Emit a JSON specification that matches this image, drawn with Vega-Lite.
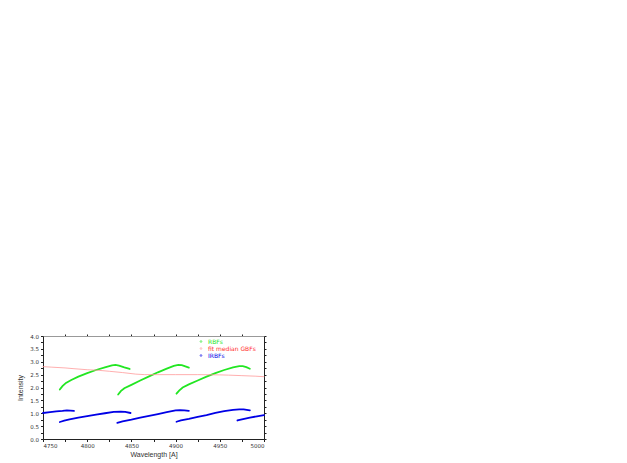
{
  "$schema": "https://vega.github.io/schema/vega-lite/v6.json",
  "width": 221,
  "height": 103,
  "autosize": {"type": "none"},
  "padding": {"left": 43, "top": 336, "right": 10, "bottom": 20},
  "background": "white",
  "config": {
    "view": {"stroke": null},
    "axis": {"labelFont": "DejaVu Sans", "titleFont": "Liberation Sans", "labelFontSize": 5.5, "titleFontSize": 7, "titleFontWeight": "normal", "labelColor": "#333", "titleColor": "#333", "domainColor": "#222", "tickColor": "#222", "grid": false, "tickSize": 2.5, "labelPadding": 2},
    "legend": {"labelFont": "DejaVu Sans", "labelFontSize": 6}
  },
  "data": {"values": [
    {"series": "RBFs", "seg": "g1", "x": 4769, "y": 1.92},
    {"series": "RBFs", "seg": "g1", "x": 4772, "y": 2.05},
    {"series": "RBFs", "seg": "g1", "x": 4776, "y": 2.18},
    {"series": "RBFs", "seg": "g1", "x": 4782, "y": 2.29},
    {"series": "RBFs", "seg": "g1", "x": 4790, "y": 2.42},
    {"series": "RBFs", "seg": "g1", "x": 4800, "y": 2.56},
    {"series": "RBFs", "seg": "g1", "x": 4810, "y": 2.68},
    {"series": "RBFs", "seg": "g1", "x": 4820, "y": 2.78},
    {"series": "RBFs", "seg": "g1", "x": 4828, "y": 2.86},
    {"series": "RBFs", "seg": "g1", "x": 4832, "y": 2.88},
    {"series": "RBFs", "seg": "g1", "x": 4836, "y": 2.85},
    {"series": "RBFs", "seg": "g1", "x": 4842, "y": 2.78},
    {"series": "RBFs", "seg": "g1", "x": 4848, "y": 2.72},
    {"series": "RBFs", "seg": "g2", "x": 4835, "y": 1.73},
    {"series": "RBFs", "seg": "g2", "x": 4838, "y": 1.86},
    {"series": "RBFs", "seg": "g2", "x": 4842, "y": 1.97},
    {"series": "RBFs", "seg": "g2", "x": 4850, "y": 2.10},
    {"series": "RBFs", "seg": "g2", "x": 4860, "y": 2.27},
    {"series": "RBFs", "seg": "g2", "x": 4870, "y": 2.43},
    {"series": "RBFs", "seg": "g2", "x": 4880, "y": 2.59},
    {"series": "RBFs", "seg": "g2", "x": 4890, "y": 2.73},
    {"series": "RBFs", "seg": "g2", "x": 4898, "y": 2.84},
    {"series": "RBFs", "seg": "g2", "x": 4903, "y": 2.88},
    {"series": "RBFs", "seg": "g2", "x": 4907, "y": 2.87},
    {"series": "RBFs", "seg": "g2", "x": 4911, "y": 2.82},
    {"series": "RBFs", "seg": "g2", "x": 4915, "y": 2.77},
    {"series": "RBFs", "seg": "g3", "x": 4901, "y": 1.76},
    {"series": "RBFs", "seg": "g3", "x": 4904, "y": 1.88},
    {"series": "RBFs", "seg": "g3", "x": 4908, "y": 2.00},
    {"series": "RBFs", "seg": "g3", "x": 4915, "y": 2.12},
    {"series": "RBFs", "seg": "g3", "x": 4925, "y": 2.27},
    {"series": "RBFs", "seg": "g3", "x": 4935, "y": 2.42},
    {"series": "RBFs", "seg": "g3", "x": 4945, "y": 2.56},
    {"series": "RBFs", "seg": "g3", "x": 4955, "y": 2.68},
    {"series": "RBFs", "seg": "g3", "x": 4965, "y": 2.78},
    {"series": "RBFs", "seg": "g3", "x": 4972, "y": 2.83},
    {"series": "RBFs", "seg": "g3", "x": 4976, "y": 2.83},
    {"series": "RBFs", "seg": "g3", "x": 4980, "y": 2.79},
    {"series": "RBFs", "seg": "g3", "x": 4984, "y": 2.73},
    {"series": "fit median GBFs", "seg": "r", "x": 4750, "y": 2.81},
    {"series": "fit median GBFs", "seg": "r", "x": 4760, "y": 2.79},
    {"series": "fit median GBFs", "seg": "r", "x": 4775, "y": 2.76},
    {"series": "fit median GBFs", "seg": "r", "x": 4785, "y": 2.73},
    {"series": "fit median GBFs", "seg": "r", "x": 4800, "y": 2.69},
    {"series": "fit median GBFs", "seg": "r", "x": 4812, "y": 2.67},
    {"series": "fit median GBFs", "seg": "r", "x": 4825, "y": 2.63},
    {"series": "fit median GBFs", "seg": "r", "x": 4840, "y": 2.58},
    {"series": "fit median GBFs", "seg": "r", "x": 4855, "y": 2.52},
    {"series": "fit median GBFs", "seg": "r", "x": 4865, "y": 2.50},
    {"series": "fit median GBFs", "seg": "r", "x": 4880, "y": 2.50},
    {"series": "fit median GBFs", "seg": "r", "x": 4900, "y": 2.50},
    {"series": "fit median GBFs", "seg": "r", "x": 4925, "y": 2.50},
    {"series": "fit median GBFs", "seg": "r", "x": 4950, "y": 2.49},
    {"series": "fit median GBFs", "seg": "r", "x": 4960, "y": 2.48},
    {"series": "fit median GBFs", "seg": "r", "x": 4975, "y": 2.46},
    {"series": "fit median GBFs", "seg": "r", "x": 4990, "y": 2.44},
    {"series": "fit median GBFs", "seg": "r", "x": 5000, "y": 2.42},
    {"series": "IRBFs", "seg": "b1", "x": 4750, "y": 1.01},
    {"series": "IRBFs", "seg": "b1", "x": 4758, "y": 1.04},
    {"series": "IRBFs", "seg": "b1", "x": 4765, "y": 1.07},
    {"series": "IRBFs", "seg": "b1", "x": 4772, "y": 1.09},
    {"series": "IRBFs", "seg": "b1", "x": 4777, "y": 1.11},
    {"series": "IRBFs", "seg": "b1", "x": 4781, "y": 1.10},
    {"series": "IRBFs", "seg": "b1", "x": 4785, "y": 1.09},
    {"series": "IRBFs", "seg": "b2", "x": 4769, "y": 0.66},
    {"series": "IRBFs", "seg": "b2", "x": 4774, "y": 0.71},
    {"series": "IRBFs", "seg": "b2", "x": 4780, "y": 0.76},
    {"series": "IRBFs", "seg": "b2", "x": 4790, "y": 0.83},
    {"series": "IRBFs", "seg": "b2", "x": 4800, "y": 0.89},
    {"series": "IRBFs", "seg": "b2", "x": 4810, "y": 0.95},
    {"series": "IRBFs", "seg": "b2", "x": 4820, "y": 1.00},
    {"series": "IRBFs", "seg": "b2", "x": 4830, "y": 1.05},
    {"series": "IRBFs", "seg": "b2", "x": 4838, "y": 1.06},
    {"series": "IRBFs", "seg": "b2", "x": 4843, "y": 1.05},
    {"series": "IRBFs", "seg": "b2", "x": 4849, "y": 1.01},
    {"series": "IRBFs", "seg": "b3", "x": 4834, "y": 0.63},
    {"series": "IRBFs", "seg": "b3", "x": 4840, "y": 0.68},
    {"series": "IRBFs", "seg": "b3", "x": 4850, "y": 0.75},
    {"series": "IRBFs", "seg": "b3", "x": 4860, "y": 0.83},
    {"series": "IRBFs", "seg": "b3", "x": 4870, "y": 0.90},
    {"series": "IRBFs", "seg": "b3", "x": 4880, "y": 0.97},
    {"series": "IRBFs", "seg": "b3", "x": 4890, "y": 1.04},
    {"series": "IRBFs", "seg": "b3", "x": 4900, "y": 1.11},
    {"series": "IRBFs", "seg": "b3", "x": 4905, "y": 1.12},
    {"series": "IRBFs", "seg": "b3", "x": 4910, "y": 1.11},
    {"series": "IRBFs", "seg": "b3", "x": 4915, "y": 1.09},
    {"series": "IRBFs", "seg": "b4", "x": 4901, "y": 0.67},
    {"series": "IRBFs", "seg": "b4", "x": 4906, "y": 0.72},
    {"series": "IRBFs", "seg": "b4", "x": 4915, "y": 0.78},
    {"series": "IRBFs", "seg": "b4", "x": 4925, "y": 0.86},
    {"series": "IRBFs", "seg": "b4", "x": 4935, "y": 0.93},
    {"series": "IRBFs", "seg": "b4", "x": 4945, "y": 1.01},
    {"series": "IRBFs", "seg": "b4", "x": 4955, "y": 1.08},
    {"series": "IRBFs", "seg": "b4", "x": 4965, "y": 1.13},
    {"series": "IRBFs", "seg": "b4", "x": 4972, "y": 1.15},
    {"series": "IRBFs", "seg": "b4", "x": 4977, "y": 1.15},
    {"series": "IRBFs", "seg": "b4", "x": 4984, "y": 1.11},
    {"series": "IRBFs", "seg": "b5", "x": 4970, "y": 0.72},
    {"series": "IRBFs", "seg": "b5", "x": 4975, "y": 0.76},
    {"series": "IRBFs", "seg": "b5", "x": 4984, "y": 0.83},
    {"series": "IRBFs", "seg": "b5", "x": 4992, "y": 0.88},
    {"series": "IRBFs", "seg": "b5", "x": 5000, "y": 0.93}
  ]},
  "resolve": {"axis": {"x": "independent", "y": "independent"}},
  "layer": [
    {
      "mark": {"type": "line", "strokeCap": "round"},
      "encoding": {
        "x": {"field": "x", "type": "quantitative", "scale": {"domain": [4750, 5000], "nice": false},
              "axis": {"title": "Wavelength [A]", "values": [4750, 4775, 4800, 4825, 4850, 4875, 4900, 4925, 4950, 4975, 5000], "labelExpr": "datum.value % 50 == 0 ? datum.value : ''", "titlePadding": 1}},
        "y": {"field": "y", "type": "quantitative", "scale": {"domain": [0, 4], "nice": false},
              "axis": {"title": "Intensity", "values": [0, 0.25, 0.5, 0.75, 1, 1.25, 1.5, 1.75, 2, 2.25, 2.5, 2.75, 3, 3.25, 3.5, 3.75, 4], "labelExpr": "(datum.value * 2) % 1 == 0 ? format(datum.value, '.1f') : ''", "titlePadding": 6}},
        "color": {"field": "series", "type": "nominal",
                  "scale": {"domain": ["RBFs", "fit median GBFs", "IRBFs"], "range": ["#22e622", "#ff9a9a", "#0000e6"]},
                  "legend": {"title": null, "orient": "none", "legendX": 155, "legendY": 3, "symbolType": "circle", "symbolSize": 3, "symbolStrokeWidth": 0.6, "rowPadding": 0, "clipHeight": 5, "labelOffset": 4,
                             "encode": {
                               "labels": {"update": {"fill": [{"test": "datum.value == 'fit median GBFs'", "value": "#ff2a2a"}, {"scale": "color", "field": "value"}]}}
                             }}},
        "detail": {"field": "seg"},
        "strokeWidth": {"condition": {"test": "datum.series == 'fit median GBFs'", "value": 0.8}, "value": 1.8}
      }
    },
    {
      "mark": {"type": "line", "opacity": 0},
      "encoding": {
        "x": {"field": "x", "type": "quantitative", "scale": {"domain": [4750, 5000], "nice": false},
              "axis": {"orient": "top", "title": null, "labels": false, "values": [4775, 4800, 4825, 4850, 4875, 4900, 4925, 4950, 4975], "domainColor": "#999", "tickSize": 2}},
        "y": {"field": "y", "type": "quantitative", "scale": {"domain": [0, 4], "nice": false},
              "axis": {"orient": "right", "title": null, "labels": false, "values": [0, 0.25, 0.5, 0.75, 1, 1.25, 1.5, 1.75, 2, 2.25, 2.5, 2.75, 3, 3.25, 3.5, 3.75, 4], "tickSize": 2}},
        "detail": {"field": "seg"}
      }
    }
  ]
}
